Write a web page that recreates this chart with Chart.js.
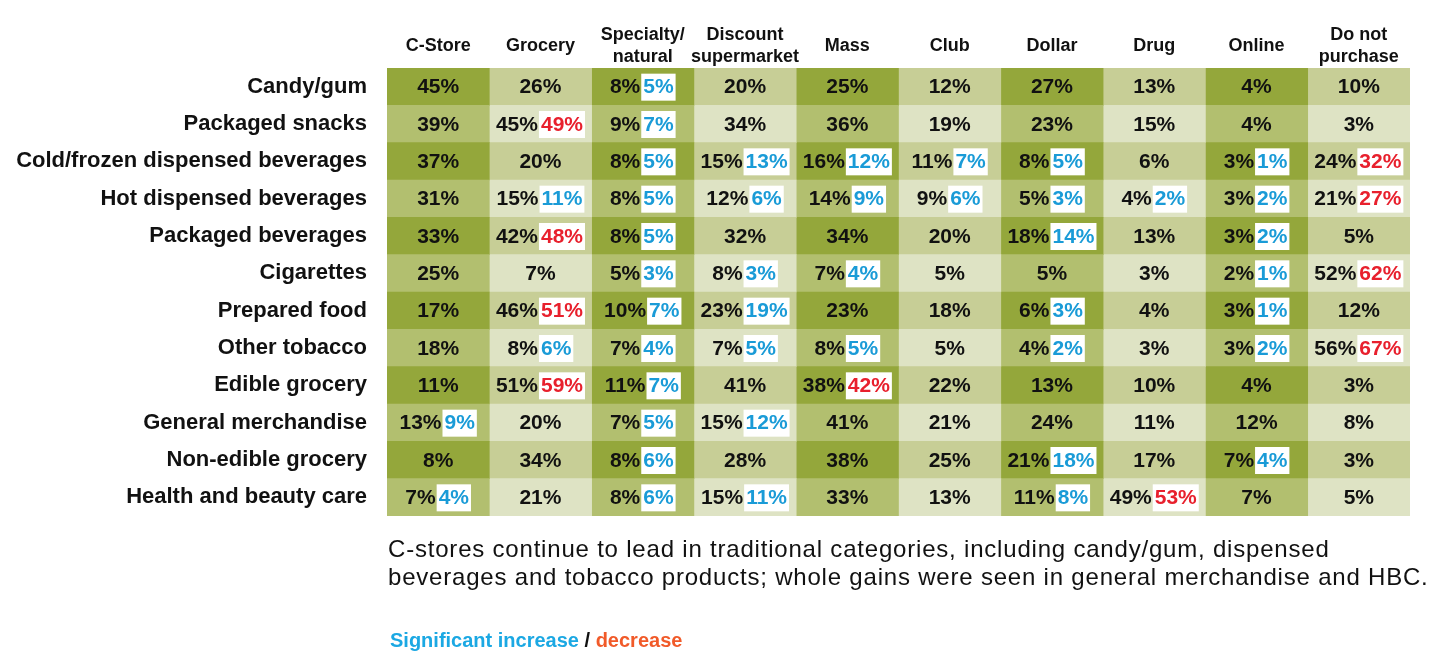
<!DOCTYPE html>
<html><head><meta charset="utf-8">
<script src="https://cdn.jsdelivr.net/npm/chart.js@4.4.1/dist/chart.umd.min.js"></script>
<style>
html,body{margin:0;padding:0;background:#fff;}
#wrap{position:relative;width:1440px;height:655px;overflow:hidden;}
#c{position:absolute;left:0;top:0;}
#caption{position:absolute;left:388px;top:535px;font-family:'Liberation Sans',Arial,sans-serif;font-size:24px;letter-spacing:0.8px;line-height:28px;color:#111;white-space:nowrap;}
#legend{position:absolute;left:390px;top:628px;font-family:'Liberation Sans',Arial,sans-serif;font-weight:bold;font-size:20px;line-height:24px;color:#111;white-space:nowrap;}
#legend .inc{color:#1ba8e3;} #legend .dec{color:#f15a29;}
</style></head>
<body><div id="wrap"><canvas id="c" width="1440" height="655"></canvas>
<div id="caption">C-stores continue to lead in traditional categories, including candy/gum, dispensed<br>beverages and tobacco products; whole gains were seen in general merchandise and HBC.</div>
<div id="legend"><span class="inc">Significant increase</span> / <span class="dec">decrease</span></div>
</div>
<script>
const categories = ["Candy/gum","Packaged snacks","Cold/frozen dispensed beverages","Hot dispensed beverages","Packaged beverages","Cigarettes","Prepared food","Other tobacco","Edible grocery","General merchandise","Non-edible grocery","Health and beauty care"];
const channels = [["C-Store"],["Grocery"],["Specialty/","natural"],["Discount","supermarket"],["Mass"],["Club"],["Dollar"],["Drug"],["Online"],["Do not","purchase"]];
const n = null;
const cstore    = [45,39,37,31,33,25,17,18,11,13,8,7];
const cstorePrev= [n,n,n,n,n,n,n,n,n,9,n,4];
const grocery    = [26,45,20,15,42,7,46,8,51,20,34,21];
const groceryPrev= [n,49,n,11,48,n,51,6,59,n,n,n];
const specialty    = [8,9,8,8,8,5,10,7,11,7,8,8];
const specialtyPrev= [5,7,5,5,5,3,7,4,7,5,6,6];
const discount    = [20,34,15,12,32,8,23,7,41,15,28,15];
const discountPrev= [n,n,13,6,n,3,19,5,n,12,n,11];
const mass    = [25,36,16,14,34,7,23,8,38,41,38,33];
const massPrev= [n,n,12,9,n,4,n,5,42,n,n,n];
const club    = [12,19,11,9,20,5,18,5,22,21,25,13];
const clubPrev= [n,n,7,6,n,n,n,n,n,n,n,n];
const dollar    = [27,23,8,5,18,5,6,4,13,24,21,11];
const dollarPrev= [n,n,5,3,14,n,3,2,n,n,18,8];
const drug    = [13,15,6,4,13,3,4,3,10,11,17,49];
const drugPrev= [n,n,n,2,n,n,n,n,n,n,n,53];
const online    = [4,4,3,3,3,2,3,3,4,12,7,7];
const onlinePrev= [n,n,1,2,2,1,1,2,n,n,4,n];
const doNot    = [10,3,24,21,5,52,12,56,3,8,3,5];
const doNotPrev= [n,n,32,27,n,62,n,67,n,n,n,n];

const current = [cstore,grocery,specialty,discount,mass,club,dollar,drug,online,doNot];
const prior   = [cstorePrev,groceryPrev,specialtyPrev,discountPrev,massPrev,clubPrev,dollarPrev,drugPrev,onlinePrev,doNotPrev];

const FONT = "'Liberation Sans',Arial,sans-serif";
const shades = [["#94a73b","#c7ce96"],["#b2bf6f","#dee3c4"]];
const BLUE = "#1a9bd7", RED = "#e8202d";

const datasets = current.map((col, j) => ({
  label: channels[j].join(" "),
  data: col.map(() => 1),
  backgroundColor: col.map((v, i) => shades[i % 2][j % 2]),
  borderWidth: 0,
  barPercentage: 1,
  categoryPercentage: 1
}));

const cellText = {
  id: 'cellText',
  afterDatasetsDraw(chart) {
    const ctx = chart.ctx;
    ctx.save();
    ctx.font = "bold 21px " + FONT;
    ctx.textBaseline = 'middle';
    chart.data.datasets.forEach((ds, j) => {
      chart.getDatasetMeta(j).data.forEach((el, i) => {
        const p = el.getProps(['x','y','base','height'], true);
        const cx = (p.x + p.base) / 2, cy = p.y + 1;
        const a = current[j][i] + '%';
        const b = prior[j][i];
        const w1 = ctx.measureText(a).width;
        if (b == null) {
          ctx.textAlign = 'center'; ctx.fillStyle = '#111';
          ctx.fillText(a, cx, cy);
        } else {
          const s = b + '%';
          const w2 = ctx.measureText(s).width;
          const pad = 2, gap = 1;
          const total = w1 + gap + w2 + 2 * pad;
          const x0 = cx - total / 2;
          ctx.textAlign = 'left'; ctx.fillStyle = '#111';
          ctx.fillText(a, x0, cy);
          const bx = x0 + w1 + gap;
          ctx.fillStyle = '#fff';
          ctx.fillRect(bx, p.y - 13, w2 + 2 * pad, 27);
          ctx.fillStyle = b < current[j][i] ? BLUE : RED;
          ctx.fillText(s, bx + pad, cy);
        }
      });
    });
    ctx.restore();
  }
};

new Chart(document.getElementById('c'), {
  type: 'bar',
  data: { labels: categories, datasets },
  options: {
    indexAxis: 'y',
    responsive: false,
    animation: false,
    layout: { padding: { left: 0, right: 30, top: 0, bottom: 139 } },
    plugins: { legend: { display: false }, tooltip: { enabled: false } },
    scales: {
      x: { type: 'linear', stacked: true, min: 0, max: channels.length, display: false },
      x2: {
        type: 'category', position: 'top', labels: channels, offset: true,
        grid: { display: false, drawTicks: false }, border: { display: false },
        ticks: { font: { family: FONT, size: 18, weight: 'bold', lineHeight: 1.2 }, color: '#111', padding: 11, crossAlign: 'center', maxRotation: 0, autoSkip: false },
        afterFit(s) { s.height = 68; }
      },
      y: {
        type: 'category', stacked: true,
        grid: { display: false, drawTicks: false }, border: { display: false },
        ticks: { font: { family: FONT, size: 22, weight: 'bold' }, color: '#111', padding: 20, autoSkip: false },
        afterFit(s) { s.width = 387; }
      }
    }
  },
  plugins: [cellText]
});
</script>
</body></html>
